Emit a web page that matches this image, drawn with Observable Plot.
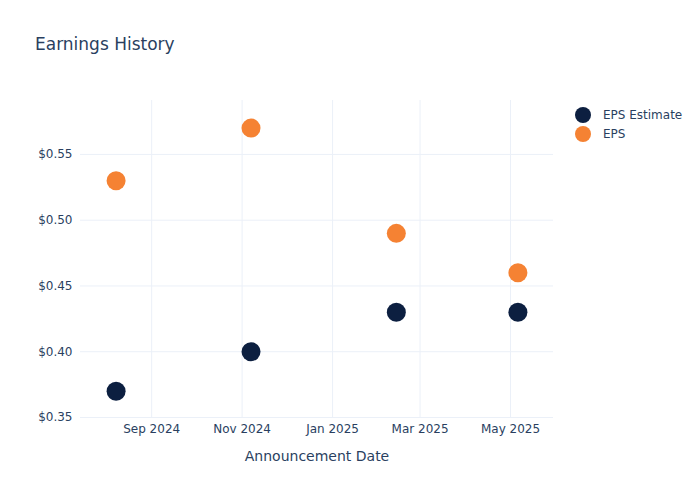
<!DOCTYPE html>
<html>
<head>
<meta charset="utf-8">
<script src="https://cdn.jsdelivr.net/npm/d3@7"></script>
<script src="https://cdn.jsdelivr.net/npm/@observablehq/plot@0.6"></script>
<style>
  html, body { margin: 0; padding: 0; background: #fff; }
  #wrap { position: relative; width: 700px; height: 500px; font-family: "DejaVu Sans", sans-serif; color: #2a3f5f; }
  #title { position: absolute; left: 35px; top: 34px; font-size: 17px; white-space: nowrap; }
  #legend { position: absolute; left: 575px; top: 105px; font-size: 12px; }
  .li { display: flex; align-items: center; height: 19px; }
  .sw { width: 16px; height: 16px; border-radius: 50%; margin-right: 12px; }
</style>
</head>
<body>
<div id="wrap">
  <div id="chart"></div>
  <div id="title">Earnings History</div>
  <div id="legend"></div>
</div>
<script>
const dates = ["2024-08-08", "2024-11-07", "2025-02-13", "2025-05-06"];
const epsEstimate = [0.37, 0.40, 0.43, 0.43];
const epsActual = [0.53, 0.57, 0.49, 0.46];
const seriesNames = ["EPS Estimate", "EPS"];
const seriesColors = ["#0c1f40", "#f58233"];
const yTicks = [0.35, 0.40, 0.45, 0.50, 0.55];
const xDomain = ["2024-07-15", "2025-05-30"];
const yDomain = [0.35, 0.591];

const rows = [];
dates.forEach((d, i) => {
  rows.push({date: new Date(d), value: epsEstimate[i], series: seriesNames[0]});
});
dates.forEach((d, i) => {
  rows.push({date: new Date(d), value: epsActual[i], series: seriesNames[1]});
});

const xTicks = d3.utcMonth.every(2).range(new Date("2024-09-01"), new Date(xDomain[1]));

const chart = Plot.plot({
  width: 700,
  height: 500,
  marginLeft: 80,
  marginRight: 147,
  marginTop: 100,
  marginBottom: 83,
  style: {fontFamily: "DejaVu Sans, sans-serif", fontSize: "12px", color: "#2a3f5f", background: "#fff"},
  x: {type: "utc", domain: xDomain.map(d => new Date(d))},
  y: {domain: yDomain},
  color: {domain: seriesNames, range: seriesColors},
  marks: [
    Plot.gridX(xTicks, {stroke: "#ebf0f8", strokeOpacity: 1}),
    Plot.gridY(yTicks, {stroke: "#ebf0f8", strokeOpacity: 1}),
    Plot.axisX(xTicks, {tickSize: 0, tickPadding: 7, tickFormat: d3.utcFormat("%b %Y"), fill: "#2a3f5f", fontSize: 12, label: null}),
    Plot.axisY(yTicks, {tickSize: 0, tickPadding: 8, tickFormat: d => "$" + d.toFixed(2), fill: "#2a3f5f", fontSize: 12, label: null}),
    Plot.dot(rows, {x: "date", y: "value", fill: "series", r: 9.5, stroke: null}),
    Plot.text(["Announcement Date"], {frameAnchor: "bottom", dy: 39, fontSize: 14, fill: "#2a3f5f", lineAnchor: "middle"})
  ]
});
document.getElementById("chart").appendChild(chart);

const legend = document.getElementById("legend");
seriesNames.forEach((name, i) => {
  const li = document.createElement("div");
  li.className = "li";
  const sw = document.createElement("div");
  sw.className = "sw";
  sw.style.background = seriesColors[i];
  li.appendChild(sw);
  li.appendChild(document.createTextNode(name));
  legend.appendChild(li);
});
</script>
</body>
</html>
